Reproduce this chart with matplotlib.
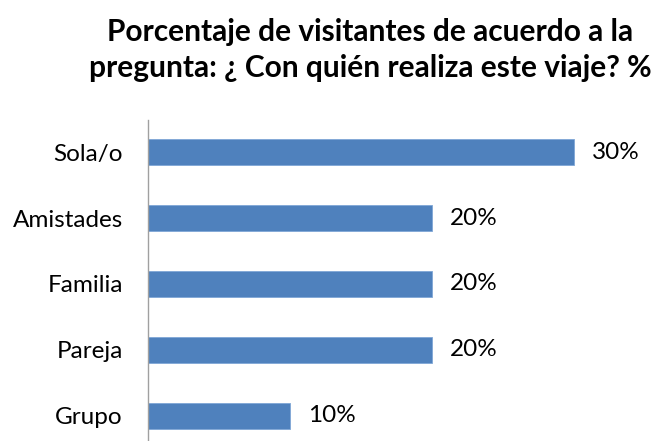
import matplotlib.pyplot as plt

categorias = ["Grupo", "Pareja", "Familia", "Amistades", "Sola/o"]
porcentajes = [10, 20, 20, 20, 30]
etiquetas = ["10%", "20%", "20%", "20%", "30%"]

plt.rcParams['font.family'] = ['Lato', 'DejaVu Sans']

fig = plt.figure(figsize=(6.54, 4.41), dpi=100)
# axis area: left spine at x=148px, from y=120px down to the bottom edge
ax = fig.add_axes([148 / 654, 0, 1 - 148 / 654, (441 - 120) / 441])

ypos = range(len(categorias))
ax.barh(ypos, porcentajes, height=0.38, color='#4F81BD', edgecolor='#7FA6D6', linewidth=0.6)

ax.set_xlim(0, (654 - 148) / 142 * 10)
ax.set_ylim(-0.379, 4.485)

ax.set_yticks(list(ypos))
ax.set_yticklabels(categorias, fontsize=17.5)
ax.tick_params(axis='y', length=0, pad=18)
ax.set_xticks([])

for s in ['top', 'right', 'bottom']:
    ax.spines[s].set_visible(False)
ax.spines['left'].set_color('#A0A0A0')
ax.spines['left'].set_linewidth(1)

for y, v, t in zip(ypos, porcentajes, etiquetas):
    ax.text(v + 1.27, y, t, va='center', ha='left', fontsize=17.5)

fig.text(370 / 654, 1 - 50 / 441,
         "Porcentaje de visitantes de acuerdo a la\npregunta: ¿ Con quién realiza este viaje? %",
         ha='center', va='center', fontsize=21.5, fontweight='bold', linespacing=1.35)

fig.savefig("out.png", dpi=100)
